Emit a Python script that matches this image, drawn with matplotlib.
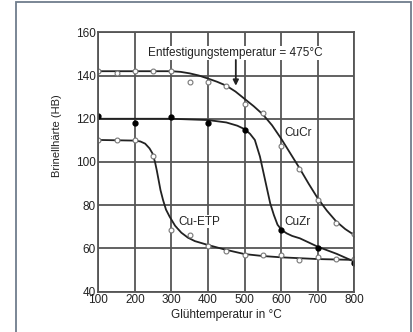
import numpy as np
import matplotlib
matplotlib.use("Agg")
import matplotlib.pyplot as plt
from matplotlib.patches import Rectangle

plt.rcParams['font.family'] = ['Liberation Sans', 'DejaVu Sans']

# measured points
t_pts = [100, 150, 200, 250, 300, 350, 400, 450, 500, 550, 600, 650, 700, 750, 800]
cucr_pts = [142, 141, 142, 142, 142, 137, 137, 135, 126.7, 122.5, 107.4, 96.8, 82.4, 72, 66.6]
etp_pts = [110, 110, 110, 103, 68.5, 66, 61, 59, 57, 57, 57, 54.8, 56, 55, 55]
t_zr = [100, 200, 300, 400, 500, 600, 700, 800]
cuzr_pts = [121.3, 118.2, 121, 118, 115, 68.6, 60.4, 53.4]

# fitted curves
t_cr = [100, 300, 325, 350, 375, 400, 425, 450, 475, 500, 525, 550, 575, 600, 625,
        650, 675, 700, 725, 750, 775, 800]
cucr_fit = [142, 142, 141.7, 141, 140, 138.6, 137.1, 135.3, 132.6, 129.2, 125.8, 122, 117,
            110.8, 104, 97.2, 90, 83.2, 77.5, 72.6, 69, 66.2]
t_zrf = [100, 300, 400, 450, 480, 500, 515, 528, 542, 556, 570, 580, 590, 601, 615, 630,
         651, 675, 700, 752, 800]
cuzr_fit = [120, 120, 119.4, 118.3, 116.8, 115.2, 113, 110.2, 102.5, 91.7, 80.9, 75.5, 71,
            68.6, 67, 65.8, 64.7, 62.8, 60.8, 57.5, 53.9]
t_etf = [100, 200, 215, 228, 240, 248, 255, 260, 265, 270, 277, 285, 295, 310, 327, 345,
         364, 400, 446, 500, 550, 600, 700, 800]
etp_fit = [110.2, 109.9, 109.5, 108.5, 106.3, 104, 100, 96, 91.5, 87, 82.4, 78, 74.7, 70.5,
           67.3, 65, 63.4, 61.6, 59.5, 57.4, 56.5, 55.9, 55.1, 54.7]

fig = plt.figure(figsize=(4.14, 3.32), dpi=100)
fig.patches.append(Rectangle((0.039, -0.02), 0.953, 1.014, transform=fig.transFigure,
                             fill=False, edgecolor='#6f7d8c', linewidth=1.3))
ax = fig.add_axes([0.2375, 0.1214, 0.6183, 0.7813])

gc = '#555555'
tc = '#222222'
ax.set_xlim(100, 800)
ax.set_ylim(40, 160)
ax.set_xticks(range(100, 801, 100))
ax.set_yticks(range(40, 161, 20))
ax.grid(True, color=gc, linewidth=1.3)
for s in ax.spines.values():
    s.set_color(gc)
    s.set_linewidth(1.3)
ax.tick_params(length=0, labelsize=8.5, pad=2, colors=tc)

lc = '#222222'
ax.plot(t_cr, cucr_fit, color=lc, lw=1.3)
ax.plot(t_zrf, cuzr_fit, color=lc, lw=1.3)
ax.plot(t_etf, etp_fit, color=lc, lw=1.3)

ax.plot(t_pts, cucr_pts, 'o', ms=3.5, mfc='white', mec='#777777', mew=0.8)
ax.plot(t_pts, etp_pts, 'o', ms=3.5, mfc='white', mec='#777777', mew=0.8)
ax.plot(t_zr, cuzr_pts, 'o', ms=3.5, mfc='black', mec='black')

ax.text(475, 150.5, 'Entfestigungstemperatur = 475°C', ha='center', va='center',
        fontsize=8.5, color=tc,
        bbox=dict(facecolor='white', edgecolor='none', pad=0.5))
ax.annotate('', xy=(476, 134), xytext=(476, 148.5),
            arrowprops=dict(arrowstyle='-|>', color='#222222', lw=1.3, mutation_scale=8))

ax.text(608, 113.3, 'CuCr', fontsize=8.5, color=tc, va='center',
        bbox=dict(facecolor='white', edgecolor='none', pad=0.3))
ax.text(608, 72.4, 'CuZr', fontsize=8.5, color=tc, va='center',
        bbox=dict(facecolor='white', edgecolor='none', pad=0.3))
ax.text(319, 72.4, 'Cu-ETP', fontsize=8.5, color=tc, va='center',
        bbox=dict(facecolor='white', edgecolor='none', pad=0.3))

ax.set_xlabel('Glühtemperatur in °C', fontsize=8.5, color=tc, labelpad=2)
ax.set_ylabel('Brinellhärte (HB)', fontsize=8, color=tc)
ax.yaxis.set_label_coords(-0.14, 0.6)

fig.savefig('out.png', dpi=100)
